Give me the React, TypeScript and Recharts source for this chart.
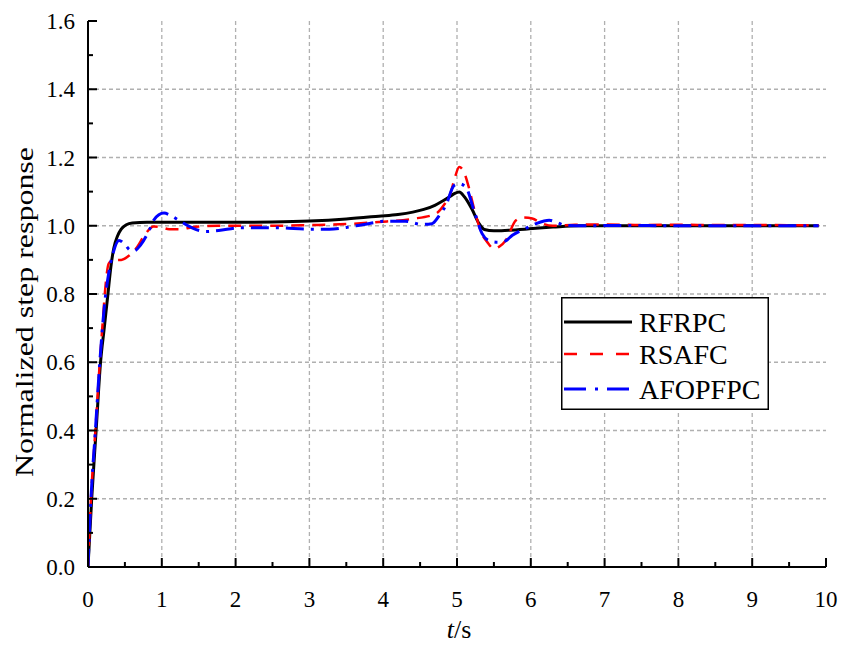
import React from 'react'
import {
  LineChart,
  Line,
  XAxis,
  YAxis,
  CartesianGrid,
  Legend,
  Label,
} from 'recharts'

// time (s) and normalized response
const T_RFRPC = [0, 0.05, 0.11, 0.17, 0.22, 0.27, 0.31, 0.35, 0.4, 0.45, 0.52, 0.6, 0.8, 1.0, 1.5, 2.0, 2.5, 3.0, 3.5, 3.94, 4.2, 4.4, 4.55, 4.7, 4.8, 4.9, 4.97, 5.03, 5.1, 5.2, 5.3, 5.37, 5.5, 5.7, 5.98, 6.3, 6.65, 7.1, 8, 9, 9.9]
const V_RFRPC = [0, 0.2, 0.4, 0.6, 0.7, 0.8, 0.88, 0.935, 0.97, 0.99, 1.003, 1.008, 1.01, 1.01, 1.01, 1.01, 1.011, 1.014, 1.02, 1.028, 1.033, 1.04, 1.048, 1.06, 1.072, 1.085, 1.095, 1.099, 1.085, 1.05, 1.006, 0.989, 0.985, 0.987, 0.991, 0.996, 1.0, 1.0, 1.0, 1.0, 1.0]

const T_RSAFC = [0, 0.04, 0.1, 0.16, 0.2, 0.24, 0.28, 0.35, 0.45, 0.56, 0.65, 0.78, 0.89, 1.0, 1.1, 1.23, 1.46, 1.77, 2.5, 3.0, 3.5, 3.94, 4.39, 4.71, 4.82, 4.91, 4.97, 5.03, 5.09, 5.14, 5.25, 5.33, 5.41, 5.5, 5.58, 5.66, 5.8, 5.9, 6.02, 6.16, 6.3, 6.6, 7.0, 7.5, 8.0, 8.5, 9.0, 9.9]
const V_RSAFC = [0, 0.2, 0.4, 0.6, 0.72, 0.83, 0.889, 0.9, 0.9, 0.913, 0.933, 0.977, 0.998, 0.995, 0.99, 0.99, 0.997, 1.0, 1.0, 1.002, 1.005, 1.011, 1.02, 1.035, 1.06, 1.094, 1.14, 1.172, 1.16, 1.128, 1.035, 0.98, 0.952, 0.933, 0.94, 0.957, 1.016, 1.024, 1.021, 1.006, 1.0, 1.003, 1.004, 1.002, 1.003, 1.002, 1.002, 1.001]

const T_AFOPFPC = [0, 0.04, 0.1, 0.16, 0.22, 0.28, 0.34, 0.42, 0.5, 0.56, 0.62, 0.71, 0.83, 0.89, 0.96, 1.03, 1.12, 1.23, 1.41, 1.59, 1.77, 2.05, 2.57, 3.0, 3.27, 3.5, 3.72, 4.03, 4.3, 4.53, 4.66, 4.76, 4.85, 4.96, 5.03, 5.12, 5.23, 5.34, 5.45, 5.55, 5.65, 5.75, 5.93, 6.07, 6.25, 6.35, 6.47, 6.8, 7.2, 8.0, 9.0, 9.9]
const V_AFOPFPC = [0, 0.2, 0.4, 0.6, 0.76, 0.86, 0.92, 0.957, 0.945, 0.93, 0.926, 0.943, 0.987, 1.016, 1.032, 1.037, 1.03, 1.016, 0.994, 0.983, 0.986, 0.994, 0.994, 0.99, 0.99, 0.995, 1.003, 1.013, 1.013, 1.004, 1.006, 1.03, 1.06, 1.118, 1.123, 1.113, 1.045, 0.977, 0.955, 0.952, 0.955, 0.972, 0.992, 1.006, 1.016, 1.01, 1.001, 1.0, 1.001, 1.0, 1.0, 1.0]

const X_TICKS = [0, 0.5, 1, 1.5, 2, 2.5, 3, 3.5, 4, 4.5, 5, 5.5, 6, 6.5, 7, 7.5, 8, 8.5, 9, 9.5, 10]
const Y_TICKS = [0, 0.1, 0.2, 0.3, 0.4, 0.5, 0.6, 0.7, 0.8, 0.9, 1.0, 1.1, 1.2, 1.3, 1.4, 1.5, 1.6]
const X_GRID = [1, 2, 3, 4, 5, 6, 7, 8, 9]
const Y_GRID = [0.2, 0.4, 0.6, 0.8, 1.0, 1.2, 1.4]

const SERIES = [
  { name: 'RFRPC', t: T_RFRPC, v: V_RFRPC, color: '#000000', width: 3, dash: undefined },
  { name: 'RSAFC', t: T_RSAFC, v: V_RSAFC, color: '#ff0000', width: 2.5, dash: '13 8' },
  { name: 'AFOPFPC', t: T_AFOPFPC, v: V_AFOPFPC, color: '#0000ff', width: 3, dash: '18 7 3 7' },
]

const FONT = '"Liberation Serif", "Times New Roman", serif'

const isMajorX = (v: number) => Math.abs(v - Math.round(v)) < 1e-6
const isMajorY = (v: number) => Math.abs(v * 5 - Math.round(v * 5)) < 1e-6

function XTick(props: any) {
  const { x, y, payload } = props
  const major = isMajorX(payload.value)
  return (
    <g>
      <line x1={x} x2={x} y1={y} y2={y - (major ? 9 : 5)} stroke="#000" strokeWidth={2} />
      {major && (
        <text x={x} y={y + 40} textAnchor="middle" fontSize={23} fontFamily={FONT} fill="#000">
          {payload.value}
        </text>
      )}
    </g>
  )
}

function YTick(props: any) {
  const { x, y, payload } = props
  const major = isMajorY(payload.value)
  return (
    <g>
      <line x1={x} x2={x + (major ? 9 : 5)} y1={y} y2={y} stroke="#000" strokeWidth={2} />
      {major && (
        <text x={x - 13} y={y + 8} textAnchor="end" fontSize={23} fontFamily={FONT} fill="#000">
          {payload.value.toFixed(1)}
        </text>
      )}
    </g>
  )
}

function LegendBox() {
  return (
    <svg width={208} height={113} style={{ display: 'block' }}>
      <rect x={0.75} y={0.75} width={206.5} height={111.5} fill="#fff" stroke="#000" strokeWidth={1.5} />
      {SERIES.map((s, i) => {
        const cy = [25, 57, 92][i]
        return (
          <g key={s.name}>
            <line x1={3} x2={71} y1={cy} y2={cy} stroke={s.color} strokeWidth={s.width} strokeDasharray={i === 1 ? '13 13' : i === 2 ? '22 9 3 9' : undefined} />
            <text x={78} y={cy + 10} fontSize={28} fontFamily={FONT} fill="#000">
              {s.name}
            </text>
          </g>
        )
      })}
    </svg>
  )
}

export default function App() {
  const lines = SERIES.map((s) => ({
    ...s,
    data: s.t.map((t, i) => ({ t, v: s.v[i] })),
  }))

  return (
    <div style={{ position: 'absolute', left: 0, top: 0, width: 843, height: 646, background: '#fff' }}>
      <LineChart width={843} height={646} margin={{ top: 21, right: 17, left: 0, bottom: 0 }}>
        <CartesianGrid
          stroke="#b0b0b0"
          strokeWidth={1.3}
          strokeDasharray="4 3"
          verticalCoordinatesGenerator={({ xAxis, offset }: any) =>
            X_GRID.map((v) => (xAxis && typeof xAxis.scale === 'function' ? xAxis.scale(v) : offset.left + (v / 10) * offset.width))
          }
          horizontalCoordinatesGenerator={({ yAxis, offset }: any) =>
            Y_GRID.map((v) => (yAxis && typeof yAxis.scale === 'function' ? yAxis.scale(v) : offset.top + offset.height * (1 - v / 1.6)))
          }
        />
        <XAxis
          dataKey="t"
          type="number"
          domain={[0, 10]}
          ticks={X_TICKS}
          interval={0}
          height={79}
          tickSize={0}
          tickMargin={0}
          tickLine={false}
          tick={<XTick />}
          axisLine={{ stroke: '#000', strokeWidth: 2 }}
          allowDataOverflow
        >
          <Label
            content={({ viewBox }: any) => (
              <text x={viewBox.x + viewBox.width / 2 + 2} y={viewBox.y + 71} textAnchor="middle" fontSize={26} fontFamily={FONT} fill="#000">
                <tspan fontStyle="italic">t</tspan>
                <tspan>/s</tspan>
              </text>
            )}
          />
        </XAxis>
        <XAxis xAxisId="top" orientation="top" type="number" domain={[0, 10]} height={0} tick={false} tickLine={false} axisLine={{ stroke: '#000', strokeWidth: 2 }} />
        <YAxis
          type="number"
          domain={[0, 1.6]}
          ticks={Y_TICKS}
          interval={0}
          width={88}
          tickSize={0}
          tickMargin={0}
          tickLine={false}
          tick={<YTick />}
          axisLine={{ stroke: '#000', strokeWidth: 2 }}
          allowDataOverflow
        >
          <Label
            content={({ viewBox }: any) => {
              const cx = 33
              const cy = viewBox.y + viewBox.height / 2 + 18
              return (
                <text
                  x={cx}
                  y={cy}
                  transform={`rotate(-90 ${cx} ${cy})`}
                  textAnchor="middle"
                  fontSize={25}
                  fontFamily={FONT}
                  fill="#000"
                  textLength={330}
                  lengthAdjust="spacingAndGlyphs"
                >
                  Normalized step response
                </text>
              )
            }}
          />
        </YAxis>
        <YAxis yAxisId="right" orientation="right" type="number" domain={[0, 1.6]} width={0} tick={false} tickLine={false} axisLine={{ stroke: '#000', strokeWidth: 2 }} />
        {lines.map((s) => (
          <Line
            key={s.name}
            data={s.data}
            dataKey="v"
            name={s.name}
            type="monotone"
            stroke={s.color}
            strokeWidth={s.width}
            strokeDasharray={s.dash}
            dot={false}
            activeDot={false}
            isAnimationActive={false}
          />
        ))}
        <Legend
          layout="vertical"
          align="center"
          verticalAlign="middle"
          content={() => <LegendBox />}
          wrapperStyle={{ left: 561, top: 297, width: 208, height: 113, right: 'auto', bottom: 'auto' }}
        />
      </LineChart>
    </div>
  )
}
